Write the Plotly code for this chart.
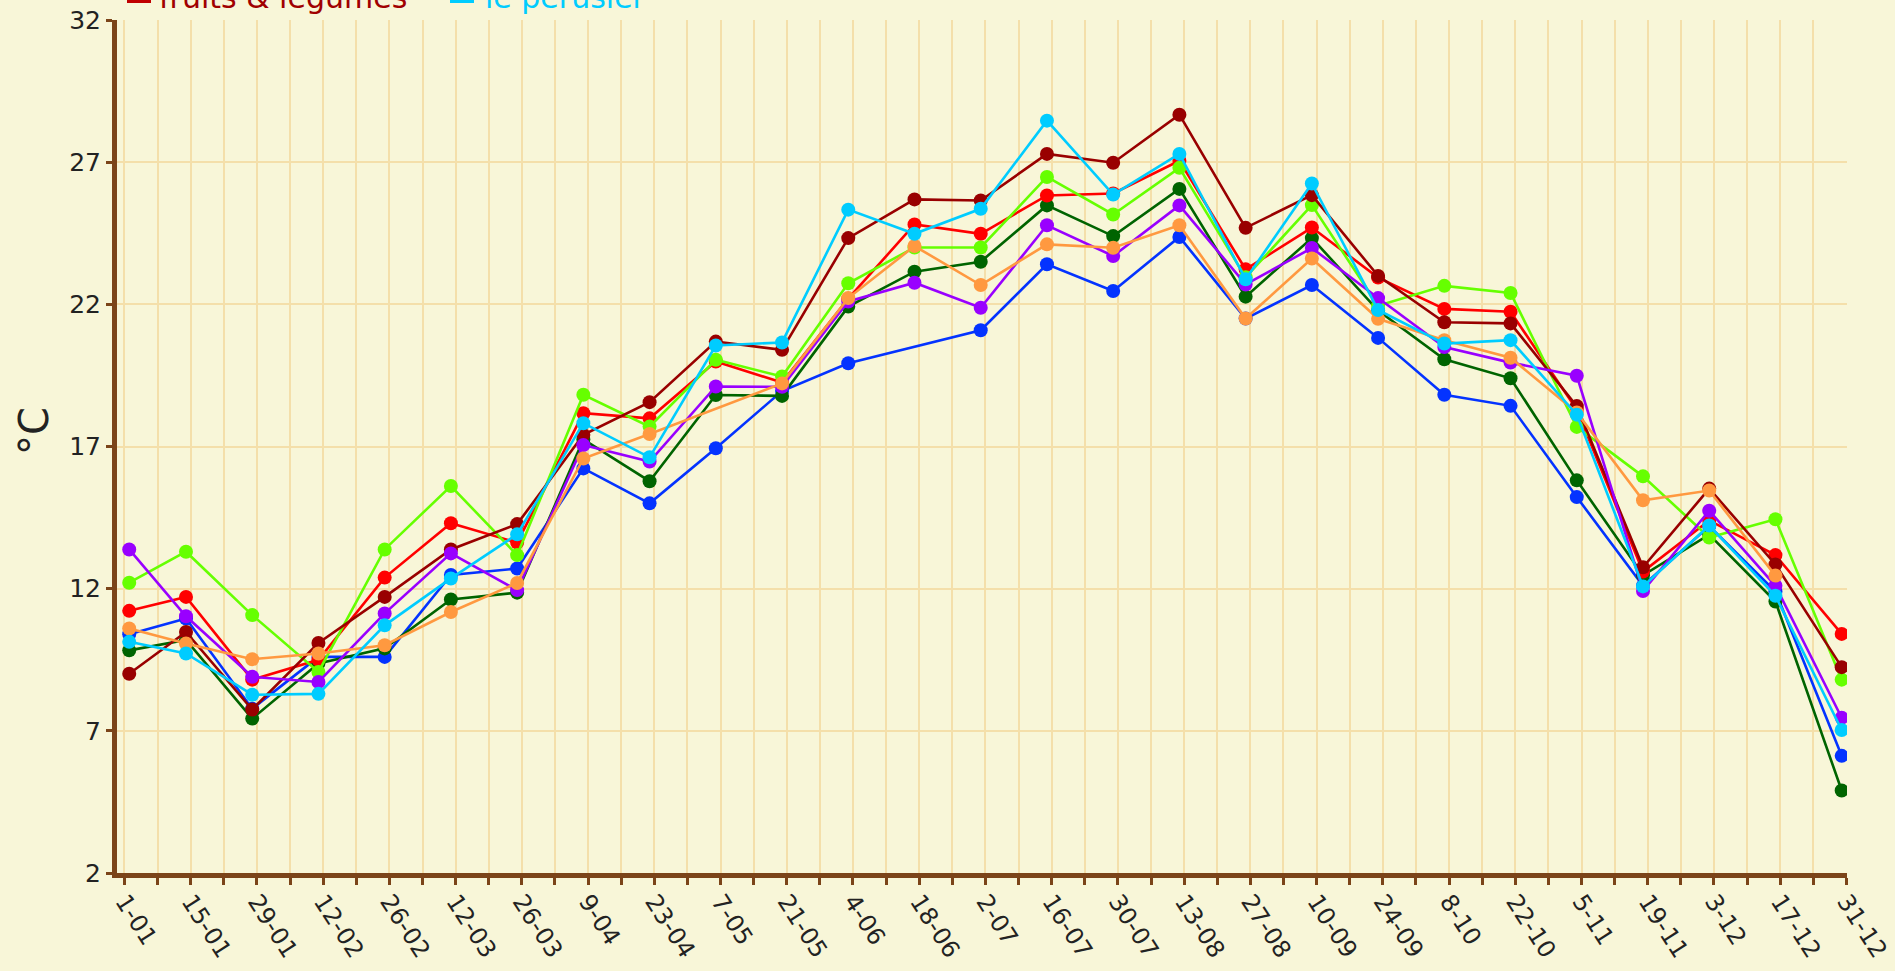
import plotly.graph_objects as go

# ---- data -------------------------------------------------------------
dates = ["2014-01-02", "2014-01-14", "2014-01-28", "2014-02-11", "2014-02-25",
         "2014-03-11", "2014-03-25", "2014-04-08", "2014-04-22", "2014-05-06",
         "2014-05-20", "2014-06-03", "2014-06-17", "2014-07-01", "2014-07-15",
         "2014-07-29", "2014-08-12", "2014-08-26", "2014-09-09", "2014-09-23",
         "2014-10-07", "2014-10-21", "2014-11-04", "2014-11-18", "2014-12-02",
         "2014-12-16", "2014-12-30"]

fruits_legumes = [9.01, 10.48, 7.75, 10.09, 11.71, 13.38, 14.27, 17.41, 18.56, 20.69,
                  20.40, 24.33, 25.69, 25.65, 27.29, 26.98, 28.67, 24.69, 25.84, 23.00,
                  21.37, 21.33, 18.42, 12.75, 15.52, 12.85, 9.24]
le_perusier = [10.13, 9.72, 8.27, 8.30, 10.71, 12.36, 13.91, 17.82, 16.62, 20.55,
               20.66, 25.33, 24.48, 25.36, 28.46, 25.86, 27.29, 22.88, 26.25, 21.80,
               20.62, 20.74, 18.12, 12.08, 14.22, 11.75, 7.03]
serie_rouge = [11.22, 11.71, 8.80, 9.50, 12.39, 14.30, 13.62, 18.17, 17.99, 19.99,
               19.25, 22.20, 24.81, 24.48, 25.83, 25.90, 27.05, 23.23, 24.70, 22.94,
               21.84, 21.74, 18.30, 12.60, 14.40, 13.18, 10.41]
serie_vert_clair = [12.21, 13.30, 11.07, 9.07, 13.38, 15.61, 13.18, 18.82, 17.70, 20.05,
                    19.46, 22.74, 24.00, 24.00, 26.48, 25.16, 26.80, 22.95, 25.49, 21.95,
                    22.65, 22.40, 17.69, 15.95, 13.80, 14.44, 8.80]
serie_vert_fonce = [9.83, 10.20, 7.43, 9.37, 9.90, 11.62, 11.86, 17.25, 15.78, 18.81,
                    18.78, 21.92, 23.15, 23.50, 25.48, 24.40, 26.06, 22.27, 24.33, 21.78,
                    20.07, 19.40, 15.81, 12.47, 13.90, 11.55, 4.90]
serie_bleu = [10.40, 10.95, 7.78, 9.60, 9.60, 12.48, 12.71, 16.23, 15.00, 16.94,
              18.95, 19.93, None, 21.09, 23.41, 22.47, 24.37, 21.50, 22.68, 20.82,
              18.82, 18.43, 15.22, 12.10, 14.20, 11.90, 6.12]
serie_violet = [13.38, 11.03, 8.90, 8.72, 11.13, 13.24, 11.95, 17.05, 16.47, 19.11,
                19.10, 22.10, 22.76, 21.88, 24.78, 23.70, 25.48, 22.70, 23.98, 22.22,
                20.50, 19.95, 19.49, 11.92, 14.74, 12.10, 7.46]
serie_orange = [10.60, 10.07, 9.52, 9.72, 10.01, 11.18, 12.20, 16.58, 17.44, None,
                19.22, 22.22, 24.05, 22.68, 24.11, 23.99, 24.78, 21.50, 23.61, 21.49,
                20.74, 20.12, 18.20, 15.11, 15.45, 12.46, None]

y_title = "°C"
legend_names = ["fruits & legumes", "le perusier"]

# ---- styles -------------------------------------------------------------
BG = "#f8f6d8"
GRID = "#f4dfaa"
BROWN = "#7b4419"
FONT = "DejaVu Sans, Verdana, sans-serif"

series = [
    ("bleu", serie_bleu, "#0433ff"),
    ("vert foncé", serie_vert_fonce, "#006400"),
    ("rouge", serie_rouge, "#ff0000"),
    ("vert clair", serie_vert_clair, "#66ff00"),
    (legend_names[0], fruits_legumes, "#990000"),
    ("violet", serie_violet, "#9900ff"),
    ("orange", serie_orange, "#ff9940"),
    (legend_names[1], le_perusier, "#00ccff"),
]

fig = go.Figure()
for name, vals, col in series:
    fig.add_trace(go.Scatter(
        x=dates, y=vals, name=name, mode="lines+markers",
        line=dict(color=col, width=2.6),
        marker=dict(color=col, size=14),
        connectgaps=True, showlegend=False,
    ))

W, H = 1895, 971
ML, MR, MT, MB = 117, 48, 20, 98
PW = W - ML - MR
PH = H - MT - MB

def px_x(px):
    return (px - ML) / PW

def px_y(py):
    return 1 + (MT - py) / PH

fig.update_layout(
    template="none",
    width=W, height=H,
    margin=dict(l=ML, r=MR, t=MT, b=MB, pad=0, autoexpand=False),
    paper_bgcolor=BG, plot_bgcolor=BG,
    font=dict(family=FONT, size=25, color="#222222"),
    showlegend=False,
    xaxis=dict(
        type="date", automargin=False,
        range=["2013-12-30 10:00", "2014-12-31 03:00"],
        tick0="2014-01-01", dtick=14 * 86400000,
        tickformat="%-d-%m", tickangle=57,
        tickfont=dict(size=24, color="#222222"),
        ticklabelstandoff=-7,
        showgrid=True, gridcolor=GRID, gridwidth=2,
        showline=True, linecolor=BROWN, linewidth=5,
        ticks="outside", ticklen=7, tickwidth=3, tickcolor=BROWN,
        minor=dict(dtick=7 * 86400000, tick0="2014-01-01", showgrid=True,
                   gridcolor=GRID, gridwidth=2, ticks="outside", ticklen=7,
                   tickwidth=3, tickcolor=BROWN),
        zeroline=False,
    ),
    yaxis=dict(
        automargin=False,
        range=[2, 32], tick0=2, dtick=5,
        tickfont=dict(size=25, color="#222222"),
        showgrid=True, gridcolor=GRID, gridwidth=2,
        showline=True, linecolor=BROWN, linewidth=5,
        ticks="outside", ticklen=6, tickwidth=3, tickcolor=BROWN,
        zeroline=False,
    ),
)

annotations = [
    dict(text=y_title, xref="paper", yref="paper", x=px_x(34), y=(H - MB - 431) / PH,
         textangle=-90, showarrow=False, font=dict(size=40, color="#222222"),
         xanchor="center", yanchor="middle"),
    dict(text=legend_names[0], xref="paper", yref="paper", x=px_x(157), y=px_y(-2),
         xanchor="left", yanchor="middle", showarrow=False,
         font=dict(size=30, color="#a00000")),
    dict(text=legend_names[1], xref="paper", yref="paper", x=px_x(483), y=px_y(-2),
         xanchor="left", yanchor="middle", showarrow=False,
         font=dict(size=30, color="#00ccff")),
]
fig.update_layout(annotations=annotations)

shapes = [
    dict(type="line", xref="paper", yref="paper", x0=px_x(127), x1=px_x(151),
         y0=px_y(1.5), y1=px_y(1.5), line=dict(color="#c00000", width=3)),
    dict(type="line", xref="paper", yref="paper", x0=px_x(450), x1=px_x(474),
         y0=px_y(1.5), y1=px_y(1.5), line=dict(color="#00ccff", width=3)),
]
fig.update_layout(shapes=shapes)

fig.write_html(
    "out.html",
    config={"displayModeBar": False},
    post_script="document.body.style.margin='0';document.body.style.background='%s';" % BG,
)
